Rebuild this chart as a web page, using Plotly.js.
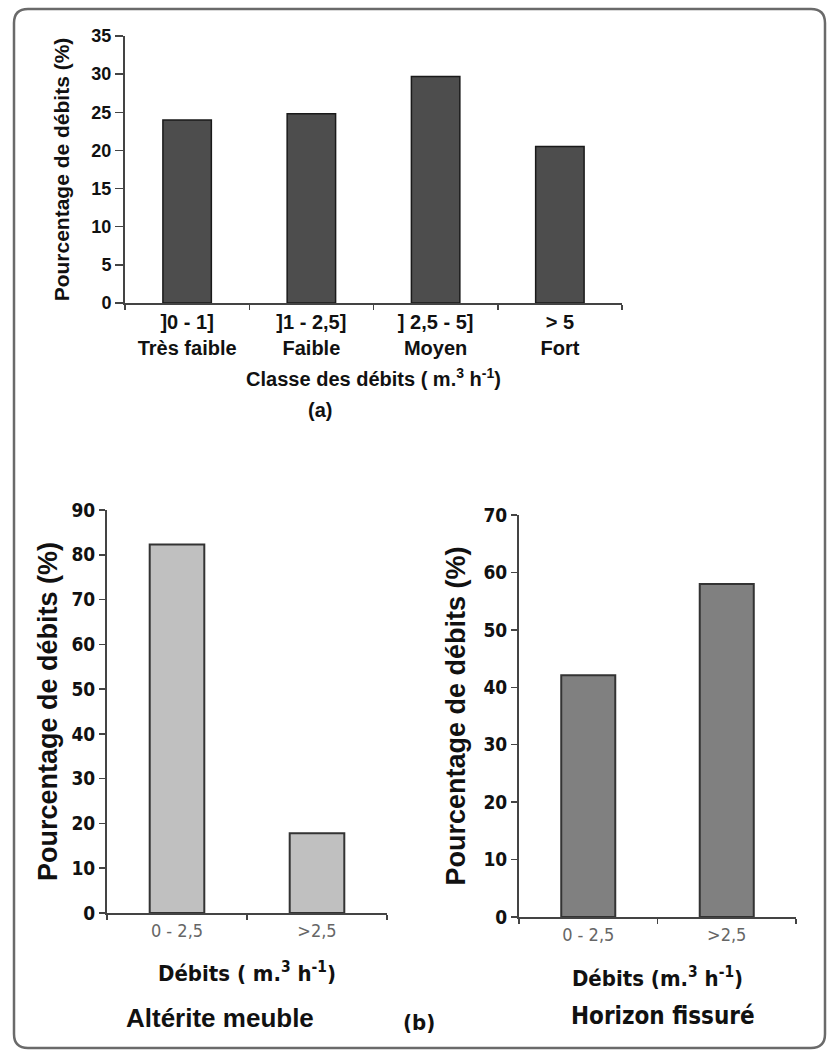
<!DOCTYPE html>
<html>
<head>
<meta charset="utf-8">
<script src="https://cdn.plot.ly/plotly-3.0.1.min.js"></script>
<style>html,body{margin:0;padding:0;background:#fff;}#chart{width:828px;height:1051px;}</style>
</head>
<body>
<div id="chart"></div>
<script>
// ---- data ----
const classRanges = ["]0 - 1]", "]1 - 2,5]", "] 2,5 - 5]", "> 5"];
const classNames = ["Très faible", "Faible", "Moyen", "Fort"];
const classPercent = [24.0, 24.8, 29.7, 20.5];

const debitClasses = ["0 - 2,5", ">2,5"];
const alteritePercent = [82.3, 17.8];
const horizonPercent = [42.1, 58.0];

const topYTicks = [0, 5, 10, 15, 20, 25, 30, 35];
const alteriteYTicks = [0, 10, 20, 30, 40, 50, 60, 70, 80, 90];
const horizonYTicks = [0, 10, 20, 30, 40, 50, 60, 70];

// ---- helpers ----
const W = 828, H = 1051;
const fx = p => p / W;
const fy = p => 1 - p / H;

const BOLD = "Liberation Sans, Arial, sans-serif";
const NARROW = "Liberation Sans Narrow, DejaVu Sans Condensed, Liberation Sans, sans-serif";

const topLabels = classRanges.map((r, i) => r + "<br>" + classNames[i]);

const traces = [
  {
    type: "bar", x: topLabels, y: classPercent, xaxis: "x", yaxis: "y",
    width: 0.39,
    marker: {color: "#4d4d4d", line: {color: "#1a1a1a", width: 1.5}},
    showlegend: false
  },
  {
    type: "bar", x: debitClasses, y: alteritePercent, xaxis: "x2", yaxis: "y2",
    width: 0.39,
    marker: {color: "#c0c0c0", line: {color: "#333333", width: 2}},
    showlegend: false
  },
  {
    type: "bar", x: debitClasses, y: horizonPercent, xaxis: "x3", yaxis: "y3",
    width: 0.39,
    marker: {color: "#808080", line: {color: "#333333", width: 2}},
    showlegend: false
  }
];

function xAxis(domain, anchor, tickfont, title) {
  return {
    domain: domain, anchor: anchor, type: "category",
    tickson: "boundaries", ticks: "outside", ticklen: 5, tickwidth: 1.5, tickcolor: "#444",
    showline: true, linecolor: "#444", linewidth: 2,
    showgrid: false, zeroline: false, fixedrange: true,
    tickfont: tickfont, title: title
  };
}
function yAxis(domain, anchor, range, vals, ticklen, tickfont, title) {
  return {
    domain: domain, anchor: anchor, range: range,
    tickmode: "array", tickvals: vals, ticktext: vals.map(String),
    ticks: "outside", ticklen: ticklen, tickwidth: 1.5, tickcolor: "#444",
    showline: true, linecolor: "#444", linewidth: 2,
    showgrid: false, zeroline: false, fixedrange: true,
    tickfont: tickfont, title: title
  };
}

const rframe = (() => {
  const l = fx(14), r = fx(825), t = fy(9), b = fy(1048);
  const rx = 14 / W, ry = 14 / H;
  return `M ${l + rx} ${t} L ${r - rx} ${t} Q ${r} ${t} ${r} ${t - ry} L ${r} ${b + ry} Q ${r} ${b} ${r - rx} ${b} L ${l + rx} ${b} Q ${l} ${b} ${l} ${b + ry} L ${l} ${t - ry} Q ${l} ${t} ${l + rx} ${t} Z`;
})();

const layout = {
  width: W, height: H,
  margin: {l: 0, r: 0, t: 0, b: 0},
  paper_bgcolor: "#ffffff", plot_bgcolor: "rgba(0,0,0,0)",
  showlegend: false,
  xaxis: xAxis([fx(125), fx(622)], "y",
    {family: BOLD, size: 20, weight: "bold", color: "#111"},
    {text: "Classe des débits ( m.<sup>3</sup> h<sup>-1</sup>)", font: {family: BOLD, size: 20, weight: "bold", color: "#111"}, standoff: 14}),
  yaxis: yAxis([fy(303), fy(36)], "x", [0, 35], topYTicks, 8,
    {family: BOLD, size: 18, weight: "bold", color: "#111"},
    {text: "Pourcentage de débits (%)", font: {family: BOLD, size: 21, weight: "bold", color: "#111"}, standoff: 16}),
  xaxis2: xAxis([fx(107), fx(387)], "y2",
    {family: NARROW, size: 18, color: "#666"},
    {text: "Débits ( m.<sup>3</sup> h<sup>-1</sup>)", font: {family: NARROW, size: 22, weight: "bold", color: "#111"}, standoff: 26}),
  yaxis2: yAxis([fy(913), fy(510)], "x2", [0, 90], alteriteYTicks, 6,
    {family: NARROW, size: 19, weight: "bold", color: "#111"},
    {text: "Pourcentage de débits (%)", font: {family: BOLD, size: 27, weight: "bold", color: "#111"}, standoff: 6}),
  xaxis3: xAxis([fx(519), fx(796)], "y3",
    {family: NARROW, size: 18, color: "#666"},
    {text: "Débits (m.<sup>3</sup> h<sup>-1</sup>)", font: {family: NARROW, size: 22, weight: "bold", color: "#111"}, standoff: 27}),
  yaxis3: yAxis([fy(917), fy(515)], "x3", [0, 70], horizonYTicks, 6,
    {family: NARROW, size: 19, weight: "bold", color: "#111"},
    {text: "Pourcentage de débits (%)", font: {family: BOLD, size: 27, weight: "bold", color: "#111"}, standoff: 10}),
  annotations: [
    {text: "(a)", xref: "paper", yref: "paper", x: fx(320), y: fy(410), xanchor: "center", yanchor: "middle", showarrow: false,
     font: {family: BOLD, size: 20, weight: "bold", color: "#111"}},
    {text: "(b)", xref: "paper", yref: "paper", x: fx(419), y: fy(1022), xanchor: "center", yanchor: "middle", showarrow: false,
     font: {family: NARROW, size: 22, weight: "bold", color: "#111"}},
    {text: "Altérite meuble", xref: "paper", yref: "paper", x: fx(220), y: fy(1018), xanchor: "center", yanchor: "middle", showarrow: false,
     font: {family: BOLD, size: 26, weight: "bold", color: "#111"}},
    {text: "Horizon fissuré", xref: "paper", yref: "paper", x: fx(663), y: fy(1016), xanchor: "center", yanchor: "middle", showarrow: false,
     font: {family: NARROW, size: 24, weight: "bold", color: "#111"}}
  ],
  shapes: [
    {type: "path", xref: "paper", yref: "paper", path: rframe,
     line: {color: "#6a6a6a", width: 2.5}, fillcolor: "rgba(0,0,0,0)", layer: "below"}
  ]
};

Plotly.newPlot("chart", traces, layout, {displayModeBar: false, staticPlot: true});
</script>
</body>
</html>
